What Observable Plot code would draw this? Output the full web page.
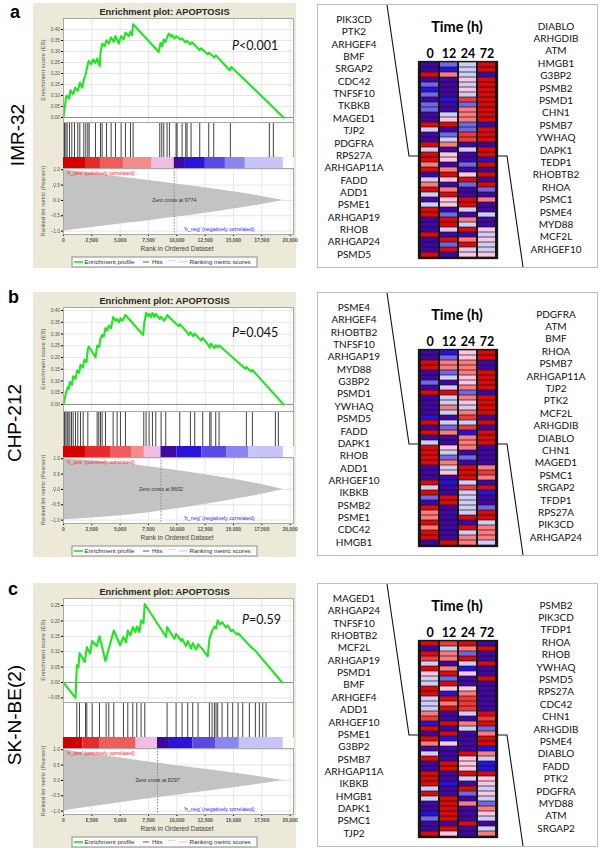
<!DOCTYPE html>
<html><head><meta charset="utf-8">
<script src="https://cdn.jsdelivr.net/npm/d3@7"></script>
<script src="https://cdn.jsdelivr.net/npm/@observablehq/plot@0.6"></script>
<style>
body{margin:0;background:#fff;}
#fig{position:relative;width:600px;height:849px;overflow:hidden;font-family:"Liberation Sans",Arial,sans-serif;}
#fig svg g[aria-label="x-axis tick label"] text{font-weight:bold;}
</style></head><body><div id="fig"></div>
<script>
// ---------------- DATA ----------------
const panelLetters = ["a", "b", "c"];
const cellLines = ["IMR-32", "CHP-212", "SK-N-BE(2)"];
const pSigns = ["<0.001", "=0.045", "=0.59"];
const zeroCross = [9774, 8602, 8297];
const plotTitle = "Enrichment plot: APOPTOSIS";
const rankTicks = [0, 2500, 5000, 7500, 10000, 12500, 15000, 17500, 20000];
const metricTicks = [-1, -0.5, 0, 0.5, 1];
const esTicksAB = [0, 0.05, 0.10, 0.15, 0.20, 0.25, 0.30, 0.35, 0.40];
const esTicksC = [-0.05, 0, 0.05, 0.10, 0.15, 0.20, 0.25];
const timePoints = ["0", "12", "24", "72"];

// running enrichment score [rank, ES]
const esA = [[0,0],[120,.048],[235,.094],[320,.10],[500,.086],[620,.124],[850,.106],[1030,.136],[1260,.121],[1440,.158],[1650,.136],[1790,.17],[1940,.192],[2090,.23],[2230,.258],[2440,.242],[2620,.264],[2820,.248],[2970,.268],[3200,.233],[3260,.291],[3410,.336],[3620,.324],[3790,.351],[4000,.336],[4200,.364],[4440,.344],[4590,.37],[4880,.336],[5090,.37],[5320,.355],[5470,.386],[5760,.37],[5910,.39],[6060,.374],[6140,.424],[8410,.298],[8560,.339],[8700,.324],[8850,.355],[9000,.344],[9290,.382],[9500,.367],[9580,.376],[9790,.359],[9940,.37],[10320,.355],[10470,.36],[10760,.342],[10910,.348],[11200,.333],[11350,.342],[12020,.306],[12140,.314],[12730,.288],[12850,.294],[13320,.273],[13440,.283],[14670,.215],[14820,.23],[19420,0]];
const esB = [[0,0],[120,.027],[235,.052],[380,.074],[470,.067],[560,.095],[740,.084],[850,.12],[1060,.109],[1210,.145],[1380,.135],[1500,.169],[1710,.157],[1850,.191],[2030,.18],[2150,.237],[2230,.247],[2820,.201],[2970,.251],[3150,.244],[3260,.279],[3410,.296],[3560,.289],[3700,.325],[3850,.315],[4000,.336],[4200,.325],[4380,.372],[4590,.357],[4730,.364],[4910,.35],[5030,.367],[5200,.357],[5470,.381],[7030,.296],[7140,.35],[7290,.39],[7440,.376],[7560,.386],[7730,.372],[7850,.39],[8030,.372],[8140,.386],[8500,.364],[8610,.374],[8850,.357],[9030,.367],[9140,.381],[10170,.333],[10260,.342],[10910,.308],[11050,.296],[11200,.308],[11440,.291],[11580,.302],[12140,.272],[12290,.284],[12820,.251],[12910,.242],[13020,.259],[13320,.24],[13440,.252],[13610,.244],[13730,.252],[14140,.234],[16050,.152],[16140,.16],[16550,.14],[16670,.147],[19420,0]];
const esC = [[0,0],[1060,-.05],[1180,.056],[1320,.049],[1410,.096],[1880,.067],[2060,.115],[2350,.094],[2530,.135],[2940,.118],[3180,.15],[3700,.07],[4440,.169],[5000,.121],[5290,.148],[5530,.131],[5670,.169],[5910,.153],[6120,.18],[6350,.164],[6470,.182],[6700,.164],[6850,.202],[7060,.193],[7170,.255],[9060,.148],[9140,.18],[9790,.142],[9940,.158],[10380,.135],[10470,.142],[10820,.118],[10970,.135],[11260,.11],[11410,.128],[11700,.107],[11880,.124],[12230,.11],[12730,.085],[12880,.142],[13110,.167],[13320,.182],[13470,.175],[13610,.202],[13820,.189],[14000,.196],[14350,.178],[14490,.186],[14790,.167],[14940,.171],[15290,.156],[15410,.16],[16700,.11],[16850,.107],[19300,0]];

// gene-set hit positions (rank)
const hitsA = [88,206,323,529,735,970,1264,1441,1793,1970,2146,2264,2822,3263,3410,3793,4204,4586,5086,5468,5909,6145,8497,8673,8849,9143,9349,9937,10025,10466,10790,10907,11260,12025,12818,13259,14729,18169,18522];
const hitsB = [88,206,323,412,559,706,853,1058,1264,1499,1735,2146,2969,3116,3263,3410,3704,4381,4733,5027,5468,7085,7291,7556,7850,8144,8614,9026,10261,11201,11584,12289,12907,13024,13436,13730,16141,16670,18698,18963];
const hitsC = [1176,1411,1940,2058,2528,3175,3763,3998,4439,5292,5674,6115,6468,6850,7174,9143,9937,10466,10966,11407,11878,12877,13112,13318,13465,13612,13994,14494,14935,15406,15817,16405,16934,17287,17581,17875];

// colour bar of the ranked list: band boundaries (rank) and band colour level
const barBreaksA = [0,1940,3260,5320,7820,9774,10760,12520,14290,16050,19400];
const barLevelsA = ["r1","r2","r3","r4","pk","b1","b2","b3","b4","b5"];
const barBreaksB = [0,1940,4150,6060,7140,8602,10030,12230,14440,16350,19400];
const barLevelsB = ["r1","r2","r3","r4","pk","b1","b2","b3","b4","b5"];
const barBreaksC = [0,1700,3180,6410,8297,9350,11410,13470,15520,19400];
const barLevelsC = ["r1","r2","r3","pk","b1","b2","b3","b4","b5"];
const barLevelNames = ["r1","r2","r3","r4","pk","b1","b2","b3","b4","b5"];
const barColors = ["#d30000","#e42c2c","#ef5c5c","#f58c8c","#f2bde2","#3d0a9e","#2a14d8","#5a4ae4","#8a86ee","#c7c5f7"];

// ranked list metric envelope
const metricRanks = [0, 2500, 5000, 7500, 10000, 12500, 15000, 17500, 19400];
const metricHiA = [1.0, 0.88, 0.76, 0.65, 0.53, 0.41, 0.28, 0.13, 0];
const metricLoA = [-1.0, -0.88, -0.77, -0.66, -0.54, -0.42, -0.28, -0.13, 0];
const metricHiB = [1.0, 0.93, 0.85, 0.74, 0.62, 0.48, 0.33, 0.16, 0];
const metricLoB = [-1.0, -0.93, -0.86, -0.76, -0.63, -0.49, -0.33, -0.16, 0];
const metricHiC = [1.0, 0.86, 0.73, 0.60, 0.48, 0.36, 0.24, 0.11, 0];
const metricLoC = [-1.0, -0.86, -0.73, -0.60, -0.48, -0.36, -0.24, -0.11, 0];

// gene lists
const genesLeftA = ["PIK3CD","PTK2","ARHGEF4","BMF","SRGAP2","CDC42","TNFSF10","TKBKB","MAGED1","TJP2","PDGFRA","RPS27A","ARHGAP11A","FADD","ADD1","PSME1","ARHGAP19","RHOB","ARHGAP24","PSMD5"];
const genesRightA = ["DIABLO","ARHGDIB","ATM","HMGB1","G3BP2","PSMB2","PSMD1","CHN1","PSMB7","YWHAQ","DAPK1","TEDP1","RHOBTB2","RHOA","PSMC1","PSME4","MYD88","MCF2L","ARHGEF10"];
const genesLeftB = ["PSME4","ARHGEF4","RHOBTB2","TNFSF10","ARHGAP19","MYD88","G3BP2","PSMD1","YWHAQ","PSMD5","FADD","DAPK1","RHOB","ADD1","ARHGEF10","IKBKB","PSMB2","PSME1","CDC42","HMGB1"];
const genesRightB = ["PDGFRA","ATM","BMF","RHOA","PSMB7","ARHGAP11A","TJP2","PTK2","MCF2L","ARHGDIB","DIABLO","CHN1","MAGED1","PSMC1","SRGAP2","TFDP1","RPS27A","PIK3CD","ARHGAP24"];
const genesLeftC = ["MAGED1","ARHGAP24","TNFSF10","RHOBTB2","MCF2L","ARHGAP19","PSMD1","BMF","ARHGEF4","ADD1","ARHGEF10","PSME1","G3BP2","PSMB7","ARHGAP11A","IKBKB","HMGB1","DAPK1","PSMC1","TJP2"];
const genesRightC = ["PSMB2","PIK3CD","TFDP1","RHOA","RHOB","YWHAQ","PSMD5","RPS27A","CDC42","CHN1","ARHGDIB","PSME4","DIABLO","FADD","PTK2","PDGFRA","MYD88","ATM","SRGAP2"];

// heatmap levels (-4 dark blue ... 4 red), rows top to bottom, columns 0/12/24/72 h
const heatA = [[-4,-2,-1,4],[-4,-3,-1,4],[4,2,-1,-4],[-4,-4,1,4],[-2,-4,-1,4],[-3,-4,1,4],[-2,-4,-1,4],[-4,-3,3,4],[-2,-4,-2,4],[-2,-4,2,4],[-4,-1,2,4],[-4,1,2,4],[4,4,-2,-4],[-1,-4,-2,4],[-4,-2,3,4],[-4,-1,3,4],[4,2,-4,-4],[-1,-4,-1,4],[4,1,-4,4],[4,1,-4,-3],[2,-4,-2,4],[4,2,-4,-4],[-4,4,1,4],[-1,1,4,-4],[2,-4,-2,4],[4,2,-4,-2],[-1,4,-4,-4],[-4,1,4,2],[-1,1,4,-4],[4,-4,-1,-4],[4,-2,-4,-1],[-4,4,2,-4],[-4,4,-1,-4],[-4,-1,4,1],[4,-4,-4,-1],[-4,4,2,1],[-4,-2,4,-1],[-4,4,-1,-1],[4,-4,1,1]];
const heatB = [[-4,-3,1,4],[-4,-2,1,4],[4,2,2,-4],[4,2,2,-4],[-4,-2,2,4],[-4,-1,1,4],[-2,-4,1,4],[-4,-1,2,4],[4,4,-2,-4],[-4,-1,2,4],[-4,-1,1,4],[-4,2,-1,4],[-4,-1,2,4],[-3,-4,3,-4],[4,-1,-1,4],[-4,-2,3,-4],[4,2,-3,4],[-4,-4,2,4],[-1,-4,2,4],[4,1,2,-4],[4,-1,-4,-4],[4,-2,-2,-4],[4,2,-4,-4],[-4,-1,4,2],[-4,1,4,3],[-4,-4,4,2],[4,-3,-1,-4],[-1,-4,3,4],[4,-4,-1,-3],[-2,4,-1,-4],[-4,4,-1,-4],[4,-4,-1,-2],[2,-4,-1,4],[2,-4,4,4],[4,-4,-4,-1],[2,-4,4,2],[4,-4,-1,2],[4,-4,2,2],[-4,4,2,-1]];
const heatC = [[4,3,4,-4],[-4,-1,2,4],[4,2,-2,-4],[3,2,4,-4],[-1,-4,-1,4],[4,2,-3,-4],[1,4,1,-4],[-1,-2,-4,4],[-1,4,-4,-4],[4,1,1,-4],[4,-3,2,-4],[-1,4,3,-4],[-1,2,3,-4],[-1,4,3,-4],[2,-4,-1,4],[3,-4,-4,3],[-3,4,2,4],[4,-4,-1,-2],[-4,4,-4,2],[4,-3,-4,4],[2,1,-4,4],[-4,-4,-4,-3],[-1,-4,4,2],[4,-4,1,-1],[-4,4,1,-3],[-4,4,1,-3],[4,-4,4,4],[4,-4,-1,1],[4,-3,-4,1],[-1,-4,4,-1],[4,-4,-2,1],[-1,4,-4,-1],[-4,4,2,-2],[-4,4,-4,2],[-3,4,-4,1],[-2,4,-4,-1],[-4,-4,4,-4],[-4,4,-4,-1],[4,1,-4,2]];
const heatLevels = [-4, -3, -2, -1, 1, 2, 3, 4];
const heatColors = ["#3f06a0", "#2612dc", "#7066e8", "#cfcdf6", "#ffc6e3", "#ff7a7a", "#ee3a3a", "#d90a0a"];

// ---------------- LAYOUT ----------------
const fig = document.getElementById("fig");
const panels = [
  {y0: 3,   yr: 4,   es: esA, esDomain: [-0.0227, 0.45], esTicks: esTicksAB, hits: hitsA, breaks: barBreaksA, levels: barLevelsA, hi: metricHiA, lo: metricLoA, gl: genesLeftA, gr: genesRightA, heat: heatA, labelY: 135, px: 232, py: 47},
  {y0: 292, yr: 292, es: esB, esDomain: [-0.03, 0.413],  esTicks: esTicksAB, hits: hitsB, breaks: barBreaksB, levels: barLevelsB, hi: metricHiB, lo: metricLoB, gl: genesLeftB, gr: genesRightB, heat: heatB, labelY: 423, px: 232, py: 45},
  {y0: 583, yr: 583, es: esC, esDomain: [-0.065, 0.273], esTicks: esTicksC,  hits: hitsC, breaks: barBreaksC, levels: barLevelsC, hi: metricHiC, lo: metricLoC, gl: genesLeftC, gr: genesRightC, heat: heatC, labelY: 715, px: 242, py: 41}
];
const XDOM = [0, 20300];
const GX = 33, GW = 263; // GSEA box
const base = {width: GW, marginLeft: 30, marginRight: 3, marginTop: 0};
const fontSmall = "Liberation Sans, Arial, sans-serif";

function put(el, left, top) {
  el.style.position = "absolute"; el.style.left = left + "px"; el.style.top = top + "px";
  fig.appendChild(el);
}
function box(left, top, w, h, css) {
  const d = document.createElement("div");
  d.style.cssText = `position:absolute;left:${left}px;top:${top}px;width:${w}px;height:${h}px;box-sizing:border-box;${css}`;
  fig.appendChild(d);
}

panels.forEach((p, i) => {
  // backgrounds
  box(GX, p.y0, GW, 265, "background:#ece9d8;");
  box(317, p.yr, 281, 264, "background:#fff;border:1.5px solid #bdbdbd;");

  // enrichment score panel
  const es = Plot.plot({
    ...base, height: 104, marginBottom: 0,
    style: {background: "none", fontFamily: fontSmall, overflow: "visible"},
    x: {domain: XDOM, axis: null}, y: {domain: p.esDomain, axis: null},
    marks: [
      Plot.frame({fill: "white"}),
      Plot.ruleX(rankTicks, {stroke: "#e6e6e6"}),
      Plot.ruleY(p.esTicks, {stroke: "#e6e6e6"}),
      Plot.ruleY([0], {stroke: "#8e8e8e"}),
      Plot.line(p.es, {x: d => d[0], y: d => d[1], stroke: "#1fe61f", strokeWidth: 2.1}),
      Plot.axisY(p.esTicks, {tickFormat: d3.format(".2f"), fontSize: 4.8, tickSize: 2, tickPadding: 1.5, label: null, fill: "#555"}),
      Plot.frame({stroke: "#a8a8a8"})
    ]
  });
  put(es, GX, p.y0 + 15);

  // hits panel
  const hits = Plot.plot({
    ...base, height: 35, marginBottom: 0,
    style: {background: "none"},
    x: {domain: XDOM, axis: null},
    marks: [
      Plot.frame({fill: "white"}),
      Plot.ruleX(p.hits, {stroke: "#2c2c2c", strokeWidth: 0.9}),
      Plot.frame({stroke: "#a8a8a8"})
    ]
  });
  put(hits, GX, p.y0 + 119);

  // colour bar
  const bars = p.levels.map((lv, k) => ({start: p.breaks[k], end: p.breaks[k + 1], level: lv}));
  const bar = Plot.plot({
    ...base, height: 11, marginBottom: 0,
    style: {background: "none"},
    x: {domain: XDOM, axis: null},
    color: {domain: barLevelNames, range: barColors},
    marks: [
      Plot.frame({fill: "white"}),
      Plot.barX(bars, {x1: "start", x2: "end", fill: "level"})
    ]
  });
  put(bar, GX, p.y0 + 154);

  // ranked list metric panel
  const metric = metricRanks.map((r, k) => ({rank: r, hi: p.hi[k], lo: p.lo[k]}));
  const zc = zeroCross[i];
  const ranked = Plot.plot({
    ...base, height: 80, marginBottom: 14,
    style: {background: "none", fontFamily: fontSmall, overflow: "visible"},
    x: {domain: XDOM, axis: null}, y: {domain: [-1.11, 1.04], axis: null},
    marks: [
      Plot.frame({fill: "white"}),
      Plot.ruleX(rankTicks, {stroke: "#e6e6e6"}),
      Plot.ruleY(metricTicks, {stroke: "#e6e6e6"}),
      Plot.areaY(metric, {x: "rank", y1: "lo", y2: "hi", fill: "#c3c3c3", curve: "monotone-x"}),
      Plot.ruleX([zc], {stroke: "#8a8a8a", strokeDasharray: "1.5,1.5"}),
      Plot.text([zc], {x: d => d, y: 0, text: d => "Zero cross at " + d, fontSize: 5.3, fill: "#333"}),
      Plot.text(["'h_pos' (positively correlated)"], {text: d => d, frameAnchor: "top-left", dx: 3, dy: 2.5, textAnchor: "start", fill: "#ff2424", fontSize: 5.3}),
      Plot.text(["'h_neg' (negatively correlated)"], {text: d => d, frameAnchor: "bottom-right", dx: -39, dy: -4, textAnchor: "end", fill: "#2a2aff", fontSize: 5.3}),
      Plot.axisY(metricTicks, {tickFormat: d3.format(".1f"), fontSize: 4.8, tickSize: 2, tickPadding: 1.5, label: null, fill: "#555"}),
      Plot.axisX(rankTicks, {tickFormat: d3.format(","), fontSize: 5, tickSize: 2, tickPadding: 1.5, label: null, fill: "#555"}),
      Plot.frame({stroke: "#a8a8a8"})
    ]
  });
  put(ranked, GX, p.y0 + 165);

  // heatmap
  const cells = [];
  p.heat.forEach((row, r) => row.forEach((v, c) => cells.push({row: r, t: timePoints[c], v})));
  const hm = Plot.plot({
    width: 79, height: 217, marginTop: 20, marginLeft: 0, marginRight: 0, marginBottom: 0,
    style: {background: "none", fontFamily: "Lato, sans-serif", overflow: "visible"},
    x: {domain: timePoints, padding: 0, axis: null},
    y: {domain: d3.range(p.heat.length), padding: 0, axis: null},
    color: {domain: heatLevels, range: heatColors},
    marks: [
      Plot.frame({fill: "#161616", stroke: "#161616", strokeWidth: 1.3}),
      Plot.cell(cells, {x: "t", y: "row", fill: "v", insetLeft: 1, insetRight: 1, insetTop: 0.35, insetBottom: 0.35}),
      Plot.axisX({anchor: "top", tickSize: 0, tickPadding: 4, fontSize: 12.5, fontWeight: "bold", label: null, fill: "#000"})
    ]
  });
  put(hm, 418, p.yr + 37);
});

// ---------------- TEXT & CONNECTORS OVERLAY ----------------
const ov = d3.select(fig).append("svg")
  .attr("width", 600).attr("height", 849)
  .style("position", "absolute").style("left", "0px").style("top", "0px")
  .style("pointer-events", "none");

panels.forEach((p, i) => {
  const y0 = p.y0, yr = p.yr;
  // panel letter
  ov.append("text").attr("x", i === 0 ? 10 : 8).attr("y", [18, 303, 595][i])
    .attr("font-family", "Liberation Sans, Arial, sans-serif").attr("font-weight", "bold").attr("font-size", 18).text(panelLetters[i]);
  // cell line label
  ov.append("text").attr("transform", `translate(${i === 0 ? 17 : 14},${p.labelY}) rotate(-90)`)
    .attr("text-anchor", "middle").attr("dominant-baseline", "central")
    .attr("font-family", "Liberation Sans, Arial, sans-serif").attr("font-size", 19).text(cellLines[i]);
  // GSEA title
  ov.append("text").attr("x", GX + GW / 2).attr("y", y0 + 12).attr("text-anchor", "middle")
    .attr("font-family", fontSmall).attr("font-weight", "bold").attr("font-size", 9.3).attr("fill", "#2a2a2a").text(plotTitle);
  // axis titles
  ov.append("text").attr("transform", `translate(45,${y0 + 67}) rotate(-90)`).attr("text-anchor", "middle")
    .attr("font-family", fontSmall).attr("font-size", 6.1).attr("fill", "#555").text("Enrichment score (ES)");
  ov.append("text").attr("transform", `translate(45,${y0 + 198}) rotate(-90)`).attr("text-anchor", "middle")
    .attr("font-family", fontSmall).attr("font-size", 5.6).attr("fill", "#555").text("Ranked list metric (Pearson)");
  ov.append("text").attr("x", 177).attr("y", y0 + 247.5).attr("text-anchor", "middle")
    .attr("font-family", fontSmall).attr("font-size", 6.6).attr("fill", "#444").text("Rank in Ordered Dataset");
  // P value
  const pt = ov.append("text").attr("x", p.px).attr("y", y0 + p.py)
    .attr("font-family", "Lato, sans-serif").attr("font-size", 12.5).attr("fill", "#111");
  pt.append("tspan").attr("font-style", "italic").text("P");
  pt.append("tspan").text(pSigns[i]);
  // legend
  const ly = y0 + 254;
  ov.append("rect").attr("x", 72).attr("y", ly).attr("width", 185).attr("height", 10)
    .attr("fill", "#fbfbfb").attr("stroke", "#777").attr("stroke-width", 0.8);
  ov.append("line").attr("x1", 74).attr("x2", 83).attr("y1", ly + 5).attr("y2", ly + 5).attr("stroke", "#1fe61f").attr("stroke-width", 1.6);
  ov.append("line").attr("x1", 143).attr("x2", 149).attr("y1", ly + 5).attr("y2", ly + 5).attr("stroke", "#333").attr("stroke-width", 0.8);
  ov.append("line").attr("x1", 168).attr("x2", 175).attr("y1", ly + 3.5).attr("y2", ly + 3.5).attr("stroke", "#d0d0d0").attr("stroke-width", 0.8);
  ov.append("line").attr("x1", 179).attr("x2", 187).attr("y1", ly + 5).attr("y2", ly + 5).attr("stroke", "#c8c8c8").attr("stroke-width", 0.8);
  [["Enrichment profile", 84.5], ["Hits", 152], ["Ranking metric scores", 189.5]].forEach(([t, x]) =>
    ov.append("text").attr("x", x).attr("y", ly + 7.3).attr("font-family", fontSmall).attr("font-size", 6.2).attr("fill", "#333").text(t));

  // right panel texts
  ov.append("text").attr("x", 457).attr("y", yr + 27.5).attr("text-anchor", "middle")
    .attr("font-family", "Lato, sans-serif").attr("font-weight", "bold").attr("font-size", 14.5).text("Time (h)");
  p.gl.forEach((g, k) => ov.append("text").attr("x", 354).attr("y", yr + 15 + k * 12.35)
    .attr("text-anchor", "middle").attr("dominant-baseline", "central")
    .attr("font-family", "Lato, sans-serif").attr("font-size", 10).attr("fill", "#111").text(g));
  p.gr.forEach((g, k) => ov.append("text").attr("x", 556).attr("y", yr + 21.5 + k * 12.4)
    .attr("text-anchor", "middle").attr("dominant-baseline", "central")
    .attr("font-family", "Lato, sans-serif").attr("font-size", 10).attr("fill", "#111").text(g));
  // zoom connector lines
  ov.append("polyline").attr("points", `387,${yr + 1} 409,${yr + 152} 418,${yr + 152}`)
    .attr("fill", "none").attr("stroke", "#111").attr("stroke-width", 1.1);
  ov.append("polyline").attr("points", `497,${yr + 152} 507,${yr + 152} 523,${yr + 263}`)
    .attr("fill", "none").attr("stroke", "#111").attr("stroke-width", 1.1);
});
</script></body></html>
